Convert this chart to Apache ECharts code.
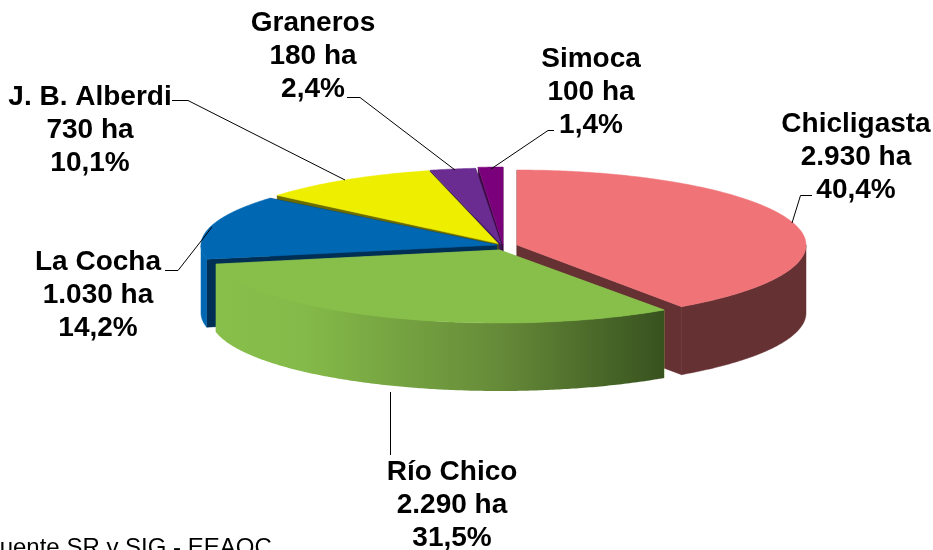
<!DOCTYPE html>
<html>
<head>
<meta charset="utf-8">
<title>Superficie por departamento</title>
<script src="https://cdn.jsdelivr.net/npm/echarts@6/dist/echarts.min.js"></script>
<style>
  html, body { margin: 0; padding: 0; background: #fff; overflow: hidden; }
  #chart { width: 933px; height: 550px; }
</style>
</head>
<body>
<div id="chart"></div>
<script>
// datos
var zonas = ['Chicligasta', 'Río Chico', 'La Cocha', 'J. B. Alberdi', 'Graneros', 'Simoca'];
var hectareas = [2930, 2290, 1030, 730, 180, 100];
var porcentajes = [40.4, 31.5, 14.2, 10.1, 2.4, 1.4];

// colores: cara superior, pared, corte
var colorTop = ['#f07377', '#88bf4b', '#0068b2', '#eeee00', '#6a2c91', '#7b007b'];
var colorPared = ['#663133', null, '#0068b2', '#8a8a00', '#3b1a55', '#3a0a40'];
var colorCorte = ['#663133', '#88bf4b', '#002f55', '#6b6b00', '#3b1a55', '#3a0a40'];
var paredVerde = {
  type: 'linear', x: 0, y: 0, x2: 1, y2: 0,
  colorStops: [
    { offset: 0, color: '#88bf4b' },
    { offset: 0.2, color: '#84ba49' },
    { offset: 0.62, color: '#678c39' },
    { offset: 1, color: '#38521f' }
  ]
};

// geometria de cada porcion (explosion del pie)
var centroX = [517, 499.5, 497, 498, 501, 503];
var centroY = [245, 250, 245, 243.5, 244, 245];
var radioX = [289, 289, 296, 288, 295, 288];
var radioY = [75, 73, 73, 75, 76, 78];
var alto = 68;
var zPorcion = [50, 60, 40, 30, 20, 10]; // de atras hacia adelante

// etiquetas: centro de texto y linea guia
var etiquetaX = [856, 452, 98, 90, 313, 591];
var etiquetaY = [157.5, 505.5, 295.5, 130.5, 56.5, 92.5];
var guias = [
  [[792, 223], [800.5, 195.5], [812, 195.5]],
  [[390.5, 392], [390.5, 455]],
  [[212, 227], [178, 270.5], [165, 270.5]],
  [[345, 180], [188, 100.5], [172, 100.5]],
  [[455, 170], [360, 97.5], [347, 97.5]],
  [[491, 169], [548, 130.5], [554, 130.5]]
];

var total = hectareas.reduce(function (a, b) { return a + b; }, 0);

function miles(n) {
  return String(n).replace(/\B(?=(\d{3})+$)/g, '.');
}

function punto(i, ang, dy) {
  return [
    centroX[i] + radioX[i] * Math.sin(ang),
    centroY[i] - radioY[i] * Math.cos(ang) + (dy || 0)
  ];
}

function arco(i, a0, a1, dy) {
  var pts = [];
  var n = Math.max(2, Math.ceil((a1 - a0) / 0.01));
  for (var k = 0; k <= n; k++) {
    pts.push(punto(i, a0 + (a1 - a0) * k / n, dy));
  }
  return pts;
}

function poli(points, fill, z2) {
  var style = { fill: fill };
  if (typeof fill === 'string') { // tapa la costura del antialias
    style.stroke = fill;
    style.lineWidth = 0.5;
  }
  return {
    type: 'polygon',
    shape: { points: points },
    style: style,
    z2: z2,
    silent: true
  };
}

function corte(i, ang, z2) {
  var c = [centroX[i], centroY[i]];
  var r = punto(i, ang);
  return poli([c, r, [r[0], r[1] + alto], [c[0], c[1] + alto]], colorCorte[i], z2);
}

function renderPorcion(params, api) {
  var i = params.dataIndex;
  var acum = 0;
  for (var k = 0; k < i; k++) acum += hectareas[k];
  var a0 = acum / total * Math.PI * 2;
  var a1 = (acum + api.value(0)) / total * Math.PI * 2;
  var z = zPorcion[i];
  var hijos = [corte(i, a0, z), corte(i, a1, z)];

  // pared exterior, solo la mitad de adelante
  var p0 = Math.max(a0, Math.PI / 2);
  var p1 = Math.min(a1, Math.PI * 1.5);
  if (p1 > p0) {
    var pared = arco(i, p0, p1, 0).concat(arco(i, p0, p1, alto).reverse());
    hijos.push(poli(pared, colorPared[i] || paredVerde, z + 1));
  }

  // cara superior
  var sup = [[centroX[i], centroY[i]]].concat(arco(i, a0, a1, 0));
  hijos.push(poli(sup, colorTop[i], z + 2));

  // guia
  hijos.push({
    type: 'polyline',
    shape: { points: guias[i] },
    style: { stroke: '#000', lineWidth: 1, fill: null },
    z2: 100,
    silent: true
  });

  // etiqueta
  hijos.push({
    type: 'text',
    x: etiquetaX[i],
    y: etiquetaY[i],
    style: {
      text: zonas[i] + '\n' + miles(api.value(0)) + ' ha\n' + porcentajes[i].toFixed(1).replace('.', ',') + '%',
      font: 'bold 28px "Liberation Sans", Arial, sans-serif',
      lineHeight: 33,
      fill: '#000',
      align: 'center',
      verticalAlign: 'middle'
    },
    z2: 110,
    silent: true
  });

  return { type: 'group', children: hijos };
}

var chart = echarts.init(document.getElementById('chart'), null, { renderer: 'canvas' });
chart.setOption({
  backgroundColor: '#fff',
  animation: false,
  tooltip: { show: false },
  series: [{
    type: 'custom',
    coordinateSystem: 'none',
    renderItem: renderPorcion,
    clip: false,
    data: hectareas.map(function (v) { return [v]; })
  }],
  graphic: [{
    type: 'text',
    left: -15,
    top: 536,
    style: {
      text: 'Fuente SR y SIG - EEAOC',
      font: '24px "Liberation Sans", Arial, sans-serif',
      fill: '#000'
    }
  }]
});
</script>
</body>
</html>
